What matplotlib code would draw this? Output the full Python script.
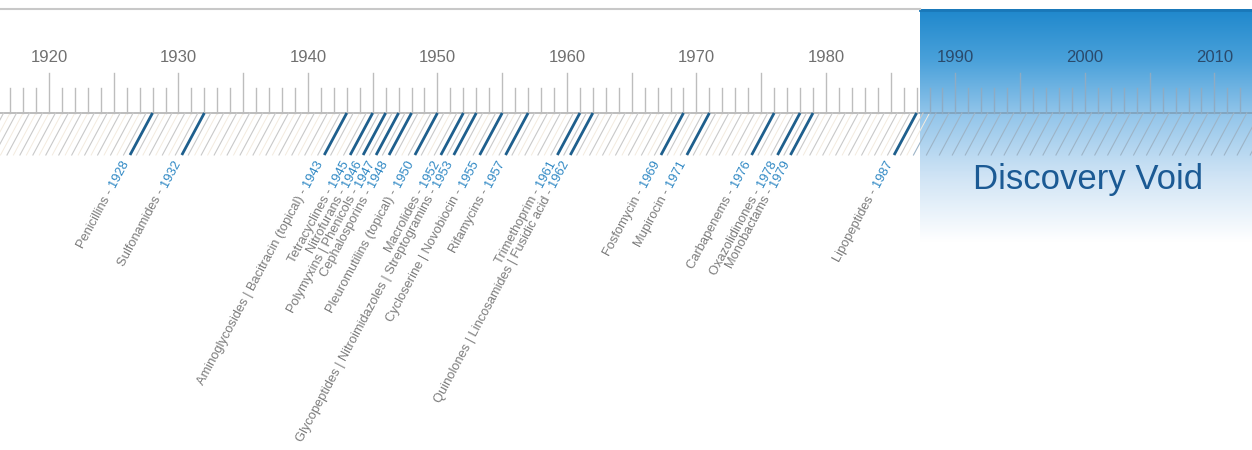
"""Antibiotic discovery timeline with the 'Discovery Void'."""

import matplotlib
matplotlib.use("Agg")
import matplotlib.pyplot as plt
import numpy as np
from matplotlib import transforms
from matplotlib.colors import LinearSegmentedColormap
from matplotlib.font_manager import FontProperties

# data
years = [1928, 1932, 1943, 1945, 1946, 1947, 1948, 1950, 1952, 1953,
         1955, 1957, 1961, 1962, 1969, 1971, 1976, 1978, 1979, 1987]
classes = [
    "Penicillins",
    "Sulfonamides",
    "Aminoglycosides | Bacitracin (topical)",
    "Tetracyclines",
    "Nitrofurans",
    "Polymyxins | Phenicols",
    "Cephalosporins",
    "Pleuromutilins (topical)",
    "Macrolides",
    "Glycopeptides | Nitroimidazoles | Streptogramins",
    "Cycloserine | Novobiocin",
    "Rifamycins",
    "Trimethoprim",
    "Quinolones | Lincosamides | Fusidic acid",
    "Fosfomycin",
    "Mupirocin",
    "Carbapenems",
    "Oxazolidinones",
    "Monobactams",
    "Lipopeptides",
]
decade_labels = list(range(1920, 2011, 10))
void_start = 1987.25
void_label = "Discovery Void"

# layout (y in pixels from top)
X0, X1 = 1916.22, 2012.9
Y_TOP, Y_BASE, Y_MAJ, Y_MIN, Y_HATCH = 9, 113, 73, 88, 155
SLANT = -1.74           # horizontal shift (years) of hatch from top to bottom
GRAY = "#bdbdbd"
TXT_GRAY = "#7c7c7c"
YEAR_BLUE = "#2f88c4"
LINE_BLUE = "#1e5f8d"

fig = plt.figure(figsize=(12.52, 4.5), dpi=100)
ax = fig.add_axes([0, 0, 1, 1])
ax.set_xlim(X0, X1)
ax.set_ylim(450, 0)
ax.axis("off")

# gradient box
cmap = LinearSegmentedColormap.from_list(
    "void", [(0.0, "#1f88cc"), (0.22, "#4aa1da"), (0.45, "#92c5ea"),
             (0.72, "#d0e4f5"), (1.0, "#ffffff")])
grad = np.linspace(0, 1, 256).reshape(-1, 1)
ax.imshow(grad, cmap=cmap, aspect="auto", extent=[void_start, X1, 242, Y_TOP],
          zorder=0, interpolation="bilinear")
ax.plot([void_start, X1], [Y_TOP + 1, Y_TOP + 1], color="#1a78b8", lw=2, zorder=1)

# top rule and baseline
ax.plot([X0, void_start], [Y_TOP, Y_TOP], color="#c8c8c8", lw=1.5, zorder=1)
ax.plot([X0, void_start], [Y_BASE, Y_BASE], color=GRAY, lw=1.4, zorder=2)
ax.plot([void_start, X1], [Y_BASE, Y_BASE], color="#7f9fb8", lw=1.2, zorder=2)

# ticks
for yr in range(1917, 2013):
    top = Y_MAJ if yr % 5 == 0 else Y_MIN
    c = "#8eabc3" if yr > void_start else GRAY
    ax.plot([yr, yr], [top, Y_BASE], color=c, lw=1, zorder=2)

for yr in decade_labels:
    c = "#2a4a6c" if yr > void_start else "#707070"
    ax.text(yr, 57, str(yr), ha="center", va="center", fontsize=12,
            color=c, family="Liberation Sans", zorder=3)

# hatching
for yr in np.arange(1916.5, 2015, 1.0):
    blue = yr + SLANT / 2 > void_start
    c = "#9db4c7" if blue else "#c9c9c9"
    ax.plot([yr, yr + SLANT], [Y_BASE, Y_HATCH], color=c, lw=0.8, zorder=2)
    if not blue:
        ax.plot([yr + 0.5, yr + 0.5 + SLANT], [Y_BASE, Y_HATCH],
                color="#f3ebdf", lw=0.7, zorder=1)

# discovery lines and labels
fs = 9.3
fp = FontProperties(family="Liberation Sans", size=fs)
renderer = fig.canvas.get_renderer()
ang = np.degrees(np.arctan2(Y_HATCH - Y_BASE, -SLANT * 1252 / (X1 - X0)))
ca, sa = np.cos(np.radians(ang)), np.sin(np.radians(ang))
for yr, name in zip(years, classes):
    ax.plot([yr, yr + SLANT], [Y_BASE, Y_HATCH], color=LINE_BLUE, lw=2,
            zorder=3, solid_capstyle="butt")
    ax_x, ax_y = yr + SLANT - 0.3, Y_HATCH + 6
    ax.text(ax_x, ax_y, str(yr), rotation=ang, rotation_mode="anchor",
            ha="right", va="center", color=YEAR_BLUE, fontproperties=fp,
            zorder=4)
    w, _, _ = renderer.get_text_width_height_descent(str(yr), fp, ismath=False)
    w += fs * 0.3 * 100 / 72
    tr = transforms.offset_copy(ax.transData, fig, x=-w * ca, y=-w * sa,
                                units="dots")
    ax.text(ax_x, ax_y, name + " -", rotation=ang, rotation_mode="anchor",
            ha="right", va="center", color=TXT_GRAY, fontproperties=fp,
            transform=tr, zorder=4)

ax.text((void_start + X1) / 2 + 0.2, 179, void_label, ha="center",
        va="center", fontsize=25, color="#1b5a94", family="Liberation Sans",
        zorder=4)

fig.savefig("out.png", dpi=100)
